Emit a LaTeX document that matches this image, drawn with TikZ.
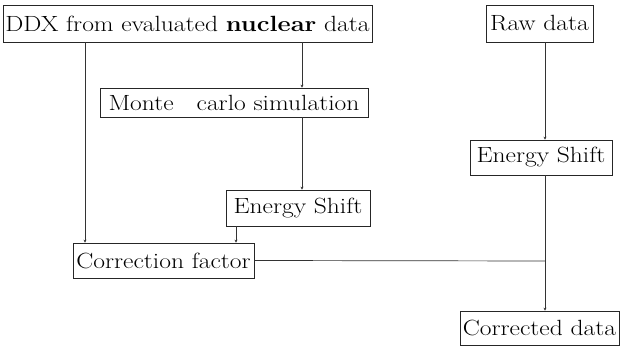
\documentclass[tikz,border=0pt]{standalone}
\usepackage{graphicx}
\usetikzlibrary{arrows.meta}
\newcommand{\wide}[1]{\scalebox{1.16}[1]{#1}}
\begin{document}
\begin{tikzpicture}[x=1pt,y=-1pt,
  box/.style={draw=black!85,line width=0.7pt,inner sep=0pt,font=\fontsize{22}{26}\selectfont},
  conn/.style={draw=black!80,line width=0.7pt,-{Stealth[length=3pt,width=3pt]}},
  plain/.style={draw=black!80,line width=0.7pt}]
\useasboundingbox (0,0) rectangle (627,358);
\node[box,minimum width=369pt,minimum height=37pt] (ddx) at (187.5,23.5) {\wide{DDX from evaluated \textbf{nuclear} data}};
\node[box,minimum width=268pt,minimum height=29pt] (mc) at (234,102.5) {\wide{Monte\hspace{0.9em}carlo simulation}};
\node[box,minimum width=107pt,minimum height=37pt] (raw) at (539.5,23.5) {\wide{Raw data}};
\node[box,minimum width=142pt,minimum height=35pt] (esr) at (541,157.5) {\wide{Energy Shift}};
\node[box,minimum width=144pt,minimum height=36pt] (esm) at (298,208) {\wide{Energy Shift}};
\node[box,minimum width=181pt,minimum height=35pt] (cf) at (163.5,260.5) {\wide{Correction factor}};
\node[box,minimum width=159pt,minimum height=34pt] (cd) at (539.5,328) {\wide{Corrected data}};
\coordinate (j) at (545,261);
\draw[conn] (ddx.south -| 85,0) -- (cf.north -| 85,0);
\draw[conn] (ddx.south -| 302,0) -- (mc.north -| 302,0);
\draw[conn] (mc.south -| 302,0) -- (esm.north -| 302,0);
\draw[conn] (esm.south -| 236,0) -- (cf.north -| 236,0);
\draw[conn] (raw.south -| 545,0) -- (esr.north -| 545,0);
\draw[plain] (esr.south -| 545,0) -- (j);
\draw[plain] (cf.east) -- (j);
\draw[conn] (j) -- (cd.north -| 545,0);
\end{tikzpicture}
\end{document}
